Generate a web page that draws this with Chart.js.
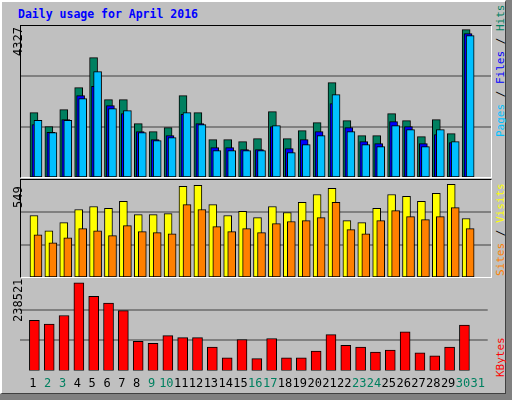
<!DOCTYPE html>
<html>
<head>
<meta charset="utf-8">
<script src="https://cdn.jsdelivr.net/npm/chart.js@4"></script>
<style>
  body { margin: 0; background: #808080; }
  #wrap { position: absolute; left: 0; top: 0; width: 512px; height: 400px; background: #808080; }
  #face { position: absolute; left: 0; top: 0; width: 503px; height: 391px; background: #c0c0c0;
          border-left: 2px solid #fff; border-top: 2px solid #fff; border-right: 1px solid #404040; border-bottom: 1px solid #404040; }
  .panel { position: absolute; left: 20px; width: 470px; border-top: 1px solid #000; border-left: 1px solid #000;
           border-right: 1px solid #fff; border-bottom: 1px solid #fff; }
  canvas { display: block; }
  #title { position: absolute; left: 18px; top: 7px; font: bold 11.5px "DejaVu Sans Mono", monospace; color: #0000ff; }
  .ylab { position: absolute; font: 12px "DejaVu Sans Mono", monospace; color: #000; transform-origin: 0 0;
          transform: rotate(-90deg); white-space: nowrap; }
  .rlab { position: absolute; font: 11px "DejaVu Sans Mono", monospace; transform-origin: 0 0;
          transform: rotate(-90deg); white-space: nowrap; }
</style>
</head>
<body>
<div id="wrap"><div id="face"></div></div>
<div id="title">Daily usage for April 2016</div>
<div class="panel" style="top:25px;height:151px"><canvas id="c1" width="470" height="151"></canvas></div>
<div class="panel" style="top:179px;height:97px"><canvas id="c2" width="470" height="97"></canvas></div>
<div class="panel" style="top:279px;height:118px;border:none"><canvas id="c3" width="471" height="118"></canvas></div>
<div class="ylab" id="y1" style="left:11px;top:56px"></div>
<div class="ylab" id="y2" style="left:11px;top:208px"></div>
<div class="ylab" id="y3" style="left:11px;top:322px"></div>
<div class="rlab" style="left:494px;top:137px"><span style="color:#00c0ff">Pages</span> / <span style="color:#0000ff">Files</span> / <span style="color:#008060">Hits</span></div>
<div class="rlab" style="left:494px;top:276px"><span style="color:#ff8000">Sites</span> / <span style="color:#ffff00">Visits</span></div>
<div class="rlab" style="left:494px;top:377px"><span style="color:#ff0000">KBytes</span></div>
<script>
const days = [1,2,3,4,5,6,7,8,9,10,11,12,13,14,15,16,17,18,19,20,21,22,23,24,25,26,27,28,29,30,31];
const weekends = [2,3,9,10,16,17,23,24,30,31];
const hits  = [1846,1444,1931,2562,3422,2218,2218,1530,1301,1416,2333,1846,1072,1072,1015,1100,1874,1100,1330,1559,2705,1616,1186,1186,1817,1616,1158,1645,1244,4224,0];
const files = [1502,1281,1645,2333,2600,2046,1817,1301,1072,1186,1797,1530,843,843,785,785,1444,814,1072,1301,2104,1416,1015,957,1588,1444,957,1215,986,4110,0];
const pages = [1625,1272,1625,2247,3020,1960,1903,1272,1043,1129,1846,1502,757,757,757,757,1473,699,929,1186,2362,1301,929,871,1473,1358,871,1358,1015,4052,0];
const visits = [348,262,308,382,399,388,428,353,353,359,513,519,410,348,371,336,399,365,422,467,502,319,308,388,467,456,428,473,524,331,0];
const sites  = [239,194,222,274,262,234,291,257,251,245,410,382,285,257,274,251,302,314,319,336,422,268,245,319,376,342,325,342,393,274,0];
const kbytes = [131000,121000,143500,228500,193500,176000,156000,76000,71000,91000,86000,86000,61000,33500,81000,31000,83500,33500,33500,51000,93500,66000,61000,48500,53500,101000,46000,38500,61000,118500,0];
const maxHits = 4327, maxVisits = 549, maxKbytes = 238521;

document.getElementById('y1').textContent = maxHits;
document.getElementById('y2').textContent = maxVisits;
document.getElementById('y3').textContent = maxKbytes;

const pts = (arr, off) => arr.map((v, i) => ({ x: days[i] + off, y: v }));
const bar = (label, arr, off, color, w, order) => ({
  label, data: pts(arr, off), backgroundColor: color, borderColor: '#000', borderWidth: 1,
  barThickness: w, grouped: false, order, borderSkipped: false
});

function makeChart(id, datasets, max, showX) {
  new Chart(document.getElementById(id), {
    type: 'bar',
    data: { datasets },
    options: {
      responsive: false, animation: false,
      plugins: { legend: { display: false }, tooltip: { enabled: false } },
      layout: { padding: 0 },
      scales: {
        x: {
          type: 'linear', min: 0.13, max: 31.67, offset: false,
          grid: { display: false, drawTicks: false }, border: { display: false },
          afterBuildTicks: a => { a.ticks = days.map(d => ({ value: d })); },
          ticks: {
            display: showX, autoSkip: false, maxRotation: 0, padding: 6,
            font: { family: 'DejaVu Sans Mono', size: 12 },
            color: c => weekends.includes(c.tick.value) ? '#008060' : '#000'
          }
        },
        y: {
          min: 0, max, afterBuildTicks: a => { a.ticks = [0, max / 3, max * 2 / 3, max].map(v => ({ value: v })); },
          ticks: { display: false }, grid: { color: '#808080', drawTicks: false, lineWidth: c => (c.index === 1 || c.index === 2) ? 2 : 0 },
          border: { display: false }
        }
      }
    }
  });
}

makeChart('c1', [
  bar('Pages', pages, 0.27, '#00c0ff', 8, 1),
  bar('Files', files, 0.13, '#0000ff', 8, 2),
  bar('Hits', hits, 0, '#008060', 8, 3)
], maxHits, false);
makeChart('c2', [
  bar('Sites', sites, 0.27, '#ff8000', 8, 1),
  bar('Visits', visits, 0, '#ffff00', 8, 2)
], maxVisits, false);
makeChart('c3', [
  bar('KBytes', kbytes, 0.1, '#ff0000', 10, 1)
], maxKbytes, true);
</script>
</body>
</html>
